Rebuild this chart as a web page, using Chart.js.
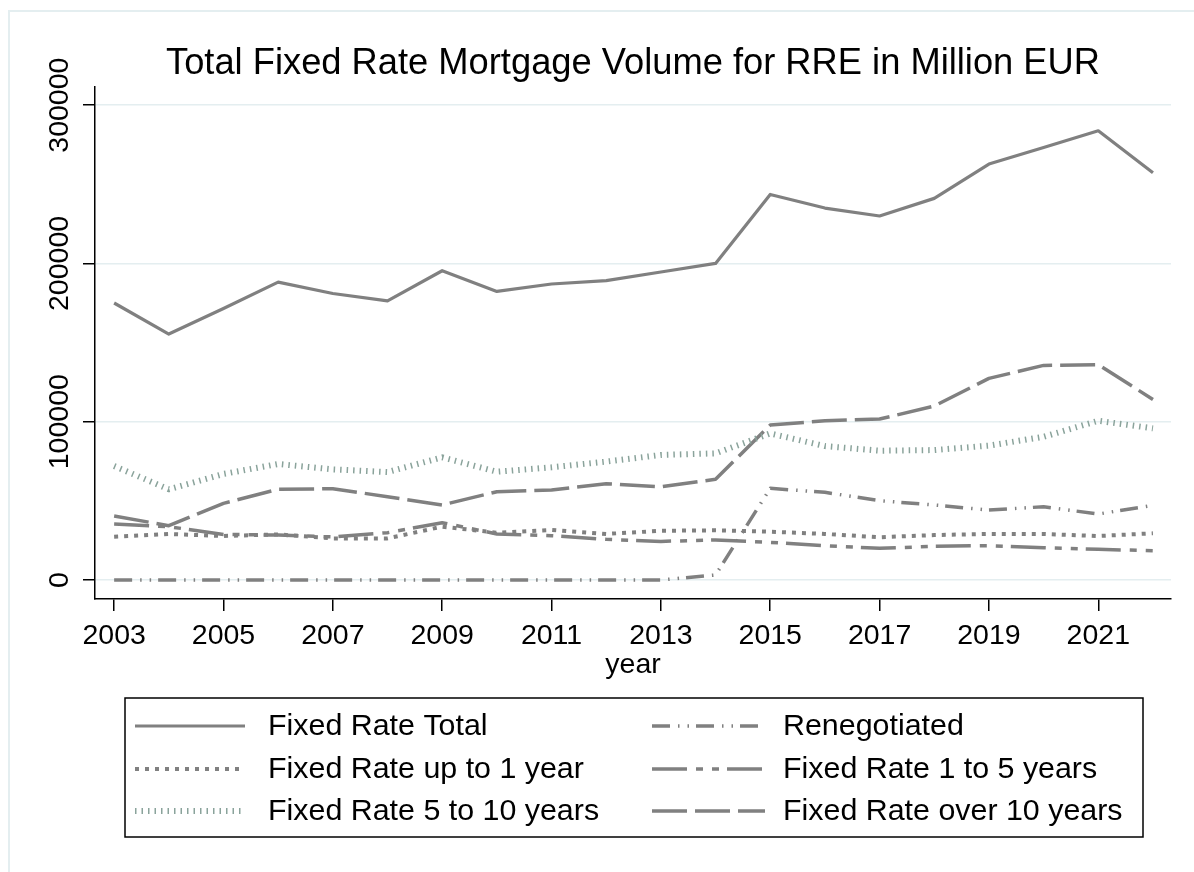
<!DOCTYPE html>
<html>
<head>
<meta charset="utf-8">
<script src="https://cdn.jsdelivr.net/npm/chart.js@4"></script>
<style>
  body { margin: 0; background: #fff; }
  canvas { display: block; }
</style>
</head>
<body>
<canvas id="mortgageChart" width="1194" height="872"></canvas>
<script>
// --- data (million EUR) ---
const years = [2003, 2004, 2005, 2006, 2007, 2008, 2009, 2010, 2011, 2012,
               2013, 2014, 2015, 2016, 2017, 2018, 2019, 2020, 2021, 2022];
const fixedTotal = [175000, 155400, 171500, 188200, 181000, 176400, 195400, 182300, 187000, 189100,
                    194600, 200000, 243600, 235000, 230000, 241100, 262800, 273300, 283800, 257300];
const upTo1Year = [27400, 29100, 27800, 28800, 26300, 26300, 33700, 29900, 31600, 29100,
                   31100, 31400, 30500, 29100, 27000, 28400, 29100, 29100, 27800, 29500];
const fiveTo10Years = [72000, 57300, 67000, 73300, 69900, 68200, 77500, 68400, 71200, 74800,
                       79000, 80000, 92600, 84600, 81700, 82100, 84900, 90500, 100600, 95800];
const renegotiated = [0, 0, 0, 0, 0, 0, 0, 0, 0, 0,
                      0, 3200, 57900, 55400, 50100, 47400, 44200, 46300, 41700, 47200];
const oneTo5Years = [35400, 33700, 28800, 28400, 27200, 29900, 36200, 29100, 28000, 25700,
                     24400, 25300, 23800, 21700, 20000, 21300, 21700, 20400, 19400, 18500];
const over10Years = [40400, 34300, 48400, 57300, 57700, 52600, 47400, 55800, 56900, 60800,
                     58900, 63600, 97900, 100600, 101700, 109900, 127400, 135600, 136000, 114100];

const seriesLabels = ['Fixed Rate Total', 'Fixed Rate up to 1 year', 'Fixed Rate 5 to 10 years',
                      'Renegotiated', 'Fixed Rate 1 to 5 years', 'Fixed Rate over 10 years'];
const xTicks = [2003, 2005, 2007, 2009, 2011, 2013, 2015, 2017, 2019, 2021];
const yTicks = [0, 100000, 200000, 300000];

const FONT = '"Liberation Sans", Arial, sans-serif';
const GRAY = '#808080';

function toPoints(vals) {
    return years.map((yr, i) => ({ x: yr, y: vals[i] }));
}

// stata-like line styles
const styles = [
    { data: fixedTotal,    color: GRAY,      width: 3.2, dash: [] },
    { data: upTo1Year,     color: GRAY,      width: 4,   dash: [4, 6] },
    { data: fiveTo10Years, color: '#8aa39b', width: 6,   dash: [1.5, 5] },
    { data: renegotiated,  color: GRAY,      width: 3.5, dash: [18, 8, 1.5, 8, 1.5, 7] },
    { data: oneTo5Years,   color: GRAY,      width: 3.5, dash: [35, 9, 7, 9, 7, 8] },
    { data: over10Years,   color: GRAY,      width: 3.5, dash: [35, 8] }
];

// background + light frame
const frame = {
    id: 'frame',
    beforeDraw(chart) {
        const ctx = chart.ctx;
        ctx.save();
        ctx.fillStyle = '#fff';
        ctx.fillRect(0, 0, chart.width, chart.height);
        ctx.strokeStyle = '#e4eef0';
        ctx.lineWidth = 2;
        ctx.strokeRect(9, 11, 1400, 1000);
        ctx.restore();
    }
};

// two-column legend box under the plot (column-major like Stata)
const legendBox = {
    id: 'legendBox',
    afterDraw(chart) {
        const ctx = chart.ctx;
        const sets = chart.data.datasets;
        ctx.save();
        ctx.strokeStyle = '#000';
        ctx.lineWidth = 1.5;
        ctx.strokeRect(125, 698, 1018, 139);
        ctx.font = '30.4px ' + FONT;
        ctx.fillStyle = '#000';
        ctx.textBaseline = 'middle';
        const cols = [{ x0: 135, x1: 245, tx: 268 }, { x0: 652, x1: 765, tx: 783 }];
        const rows = [726, 769, 811];
        sets.forEach((ds, i) => {
            const c = cols[Math.floor(i / 3)];
            const y = rows[i % 3];
            ctx.save();
            ctx.strokeStyle = ds.borderColor;
            ctx.lineWidth = ds.borderWidth;
            ctx.lineCap = 'butt';
            ctx.setLineDash(ds.borderDash);
            ctx.beginPath();
            ctx.moveTo(c.x0, y);
            ctx.lineTo(c.x1, y);
            ctx.stroke();
            ctx.restore();
            ctx.fillText(ds.label, c.tx, y + 1);
        });
        ctx.restore();
    }
};

const ctx = document.getElementById('mortgageChart').getContext('2d');
new Chart(ctx, {
    type: 'line',
    data: {
        datasets: styles.map((s, i) => ({
            label: seriesLabels[i],
            data: toPoints(s.data),
            borderColor: s.color,
            borderWidth: s.width,
            borderDash: s.dash,
            borderCapStyle: 'butt',
            borderJoinStyle: 'round',
            pointRadius: 0,
            tension: 0,
            fill: false
        }))
    },
    options: {
        responsive: false,
        animation: false,
        devicePixelRatio: 1,
        layout: { padding: { left: 0, right: 23, top: 0, bottom: 190 } },
        plugins: {
            legend: { display: false },
            tooltip: { enabled: false },
            title: {
                display: true,
                fullSize: false,
                text: 'Total Fixed Rate Mortgage Volume for RRE in Million EUR',
                color: '#000',
                font: { family: FONT, size: 36.3, weight: 'normal', lineHeight: 1.2 },
                padding: { top: 42, bottom: 1.4 }
            }
        },
        scales: {
            x: {
                type: 'linear',
                min: 2002.65,
                max: 2022.33,
                afterBuildTicks: scale => { scale.ticks = xTicks.map(v => ({ value: v })); },
                afterFit: scale => { scale.height = 83; },
                ticks: {
                    color: '#000',
                    font: { family: FONT, size: 28.5 },
                    padding: 8,
                    maxRotation: 0,
                    callback: v => String(v)
                },
                grid: {
                    drawOnChartArea: false,
                    drawTicks: true,
                    tickLength: 12,
                    tickColor: '#000',
                    lineWidth: 1.5
                },
                border: { display: true, color: '#000', width: 1.5 },
                title: {
                    display: true,
                    text: 'year',
                    color: '#000',
                    font: { family: FONT, size: 28.5 },
                    padding: { top: 0, bottom: 0 }
                }
            },
            y: {
                min: -12000,
                max: 311500,
                afterBuildTicks: scale => { scale.ticks = yTicks.map(v => ({ value: v })); },
                afterFit: scale => { scale.width = 95; },
                ticks: {
                    color: '#000',
                    font: { family: FONT, size: 28.5 },
                    minRotation: 90,
                    maxRotation: 90,
                    crossAlign: 'center',
                    padding: -24.5,
                    callback: v => String(v)
                },
                grid: {
                    color: '#e4eef0',
                    lineWidth: 1.5,
                    drawTicks: true,
                    tickLength: 12,
                    tickColor: '#000'
                },
                border: { display: true, color: '#000', width: 1.5 }
            }
        }
    },
    plugins: [frame, legendBox]
});
</script>
</body>
</html>
